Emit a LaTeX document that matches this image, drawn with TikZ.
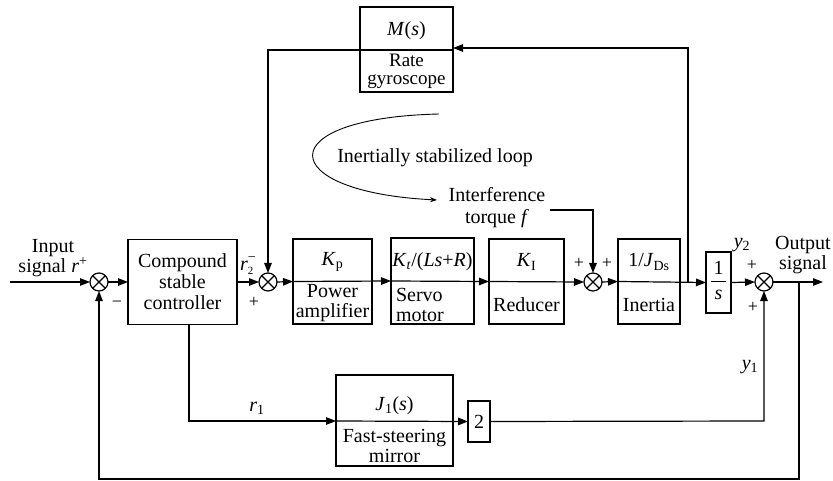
\documentclass[tikz,border=0pt]{standalone}
\usepackage{fontspec}
\setmainfont{Liberation Serif}
\usetikzlibrary{arrows.meta}
\newcommand{\mi}[1]{\textit{#1}}
\begin{document}
\begin{tikzpicture}[x=1pt,y=-1pt, line width=1.2pt,
  every node/.style={font=\fontsize{20}{20}\selectfont, inner sep=0pt, outer sep=0pt},
  blk/.style={draw, line width=1.2pt},
  sumc/.style={draw, circle, minimum size=18pt, line width=1.2pt},
  arr/.style={-{Triangle[length=10pt,width=7.5pt]}},
  sgn/.style={font=\fontsize{18}{18}\selectfont},
  lbl/.style={font=\fontsize{20}{20}\selectfont}
  ]
\useasboundingbox (0,0) rectangle (833,481);
\fill[white] (0,0) rectangle (833,481);

% summing junctions
\foreach \n/\x in {s1/99, s2/268, s3/593, s4/764}{
  \node[sumc] (\n) at (\x,282) {};
  \draw (\n.north west) -- (\n.south east) (\n.north east) -- (\n.south west);
}

% main blocks
\node[blk, minimum width=109pt, minimum height=85pt, align=center, font=\fontsize{20}{21}\selectfont] (ctrl) at (182.5,282) {Compound\\stable\\controller};
\node[blk, minimum width=79pt, minimum height=85pt] (pa) at (332.5,281.5) {};
\node[blk, minimum width=83pt, minimum height=86pt] (sm) at (432.5,281) {};
\node[blk, minimum width=75pt, minimum height=85pt] (rd) at (526.5,281.5) {};
\node[blk, minimum width=62pt, minimum height=85pt] (ine) at (649,281.5) {};
\node[blk, minimum width=25pt, minimum height=61pt] (ints) at (718.5,282.5) {};
\node[blk, minimum width=93pt, minimum height=85pt] (gyro) at (406.5,49.5) {};
\node[blk, minimum width=117pt, minimum height=91pt] (fsm) at (394.5,420.5) {};
\node[blk, minimum width=22pt, minimum height=41pt] (two) at (479,421.5) {2};

% block texts
\node (tpa) at (332.5,262) {\mi{K}\textsubscript{p}};
\node[align=center] (bpa) at (332.5,303) {Power\\amplifier};
\node (tsm) at (432.5,262) {\mi{K}\textsubscript{\mi{t}}/(\mi{Ls}+\mi{R})};
\node[align=left, anchor=west] (bsm) at (396,305) {Servo\\motor};
\node (trd) at (526.5,262) {\mi{K}\textsubscript{I}};
\node (brd) at (526.5,305) {Reducer};
\node (tin) at (649,262) {1/\mi{J}\textsubscript{Ds}};
\node (bin) at (649,305) {Inertia};
\node (one) at (718.5,268) {1};
\node (ess) at (718.5,295) {\mi{s}};
\draw[line width=1pt] (711,282) -- (726,282);
\node (tgy) at (406.5,31) {\mi{M}(\mi{s})};
\node[align=center, font=\fontsize{19}{18}\selectfont] (bgy) at (406.5,71) {Rate\\gyroscope};
\node (tfs) at (394.5,406) {\mi{J}\textsubscript{1}(\mi{s})};
\node[align=center] (bfs) at (394.5,446) {Fast-steering\\mirror};

% other texts
\node[align=center, font=\fontsize{20}{18}\selectfont] (intxt) at (53,258) {Input\\signal \mi{r}\textsuperscript{+}};
\node[align=center, font=\fontsize{20}{18}\selectfont] (outtxt) at (803,255) {Output\\signal};
\node (loop) at (435,158) {Inertially stabilized loop};
\node[align=center, font=\fontsize{20}{22}\selectfont] (intf) at (497,208) {Interference\\torque \mi{f}};
\node (r1) at (257,408) {\mi{r}\textsubscript{1}};
\node (y1) at (750,367) {\mi{y}\textsubscript{1}};
\node (y2) at (742,245) {\mi{y}\textsubscript{2}};
\node (r2) at (248,266) {\mi{r}\makebox[0pt][l]{\raisebox{-4pt}{\fontsize{11}{11}\selectfont 2}}\raisebox{9pt}{\fontsize{14}{14}\selectfont −}};
\node[sgn] (m1) at (117,304) {−};
\node[sgn] (p2) at (254,302) {+};
\node[sgn] (p3a) at (579,263) {+};
\node[sgn] (p3b) at (607,263) {+};
\node[sgn] (p4a) at (752,265) {+};
\node[sgn] (p4b) at (753,307) {+};

% coordinates
\coordinate (inst) at (10,282);
\coordinate (outend) at (823,282);
\coordinate (tap) at (688,282);
\coordinate (tapt) at (688,48);
\coordinate (gl) at (268,50);
\coordinate (tq1) at (550,210);
\coordinate (tq2) at (593,210);
\coordinate (cd1) at (189,324);
\coordinate (cd2) at (189,421);
\coordinate (y1c) at (764,421);
\coordinate (od1) at (799,282);
\coordinate (od2) at (799,479);
\coordinate (fb) at (99,479);
\coordinate (lp1) at (439,114);
\coordinate (lp2) at (437,200);

% main path
\draw[arr] (inst) -- (s1.west);
\draw[arr] (s1.east) -- (ctrl.west);
\draw[arr] (ctrl.east) -- (s2.west);
\draw[arr] (s2.east) -- (pa.west);
\draw[arr] (pa.west) -- (sm.west);
\draw[arr] (sm.west) -- (rd.west);
\draw[arr] (rd.west) -- (s3.west);
\draw[arr] (s3.east) -- (ine.west);
\draw[arr] (ine.west) -- (ints.west);
\draw[arr] (ints.east) -- (s4.west);
\draw[arr] (s4.east) -- (outend);

% gyro loop
\draw[arr] (tap) -- (tapt) -- (gyro.east |- tapt);
\draw (gyro.west |- gl) -- (gyro.east |- gl);
\draw[arr] (gyro.west |- gl) -- (gl) -- (s2.north);

% torque
\draw[arr] (tq1) -- (tq2) -- (s3.north);

% loop arrow
\draw[line width=0.9pt, -{Stealth[length=7pt,width=5pt]}] (lp1) .. controls (268,118) and (275,192) .. (lp2);

% fast steering path
\draw[arr] (cd1) -- (cd2) -- (fsm.west |- cd2);
\draw[arr] (fsm.west |- cd2) -- (two.west);
\draw[arr] (two.east) -- (y1c) -- (s4.south);

% outer feedback
\draw[arr] (od1) -- (od2) -- (fb) -- (s1.south);
\end{tikzpicture}
\end{document}
